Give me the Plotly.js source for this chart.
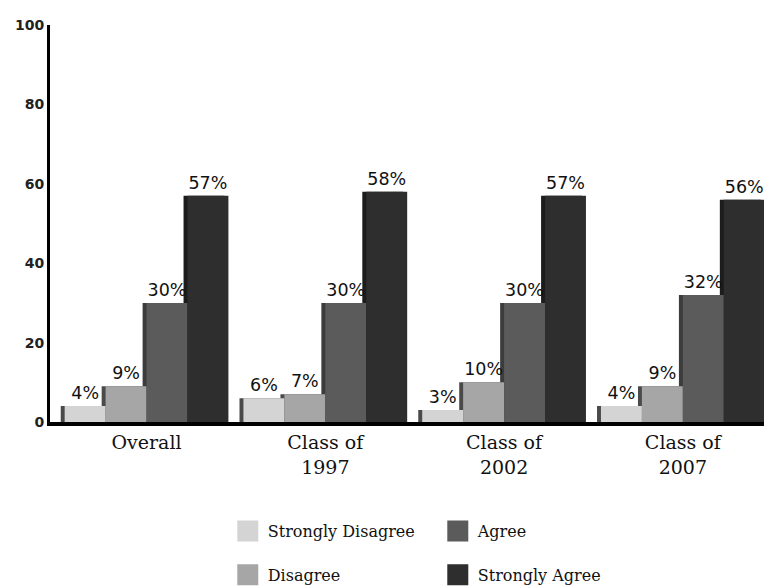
<!DOCTYPE html>
<html>
<head>
<meta charset="utf-8">
<script src="https://cdn.plot.ly/plotly-3.0.1.min.js"></script>
<style>html,body{margin:0;padding:0;background:#fff;}#chart{width:764px;height:586px;}</style>
</head>
<body>
<div id="chart"></div>
<script>
const categories = ['Overall', 'Class of 1997', 'Class of 2002', 'Class of 2007'];
const tickLabels = ['Overall', 'Class of<br>1997', 'Class of<br>2002', 'Class of<br>2007'];
const seriesNames = ['Strongly Disagree', 'Disagree', 'Agree', 'Strongly Agree'];
const stronglyDisagree = [4, 6, 3, 4];
const disagree = [9, 7, 10, 9];
const agree = [30, 30, 30, 32];
const stronglyAgree = [57, 58, 57, 56];
const yTicks = [0, 20, 40, 60, 80, 100];

const seriesValues = [stronglyDisagree, disagree, agree, stronglyAgree];
const faceColors = ['#d4d4d4', '#a6a6a6', '#5b5b5b', '#2e2e2e'];
const edgeColors = ['#4a4a4a', '#4a4a4a', '#3c3c3c', '#1c1c1c'];
const legendIds = ['legend', 'legend2', 'legend', 'legend2'];

const barW = 0.229;
const groupStart = -2 * barW;
const shadowShift = 0.022;

const traces = [];
// depth (shadow) traces drawn first
seriesValues.forEach((vals, i) => {
  traces.push({
    type: 'bar', x: categories, y: vals,
    width: barW, offset: groupStart + i * barW - shadowShift,
    marker: {color: edgeColors[i], line: {width: 0}},
    showlegend: false, hoverinfo: 'skip'
  });
});
// bar faces
seriesValues.forEach((vals, i) => {
  traces.push({
    type: 'bar', name: seriesNames[i], x: categories, y: vals,
    width: barW, offset: groupStart + i * barW,
    marker: {color: faceColors[i], line: {width: 0}},
    text: vals.map(v => v + '%'), textposition: 'outside',
    textfont: {family: 'DejaVu Sans', size: 17.5, color: '#111'},
    cliponaxis: false,
    showlegend: false
  });
});
// legend keys (no data drawn)
seriesValues.forEach((vals, i) => {
  traces.push({
    type: 'scatter', mode: 'markers', name: seriesNames[i],
    x: categories, y: vals.map(() => null),
    marker: {symbol: 'square', size: 16, color: faceColors[i],
             line: {color: faceColors[i], width: 5}},
    legend: legendIds[i], hoverinfo: 'skip'
  });
});

const legendFont = {family: 'DejaVu Serif', size: 16, color: '#111'};
const layout = {
  width: 764, height: 586,
  margin: {l: 50, r: 0, t: 25, b: 164, autoexpand: false},
  paper_bgcolor: '#fff', plot_bgcolor: '#fff',
  barmode: 'overlay',
  xaxis: {
    type: 'category', range: [-0.54, 3.454],
    tickvals: categories, ticktext: tickLabels,
    tickfont: {family: 'DejaVu Serif', size: 19, color: '#111'},
    ticklabelstandoff: 0,
    showline: true, linecolor: '#000', linewidth: 4,
    ticks: '', showgrid: false, zeroline: false, fixedrange: true
  },
  yaxis: {
    range: [0, 100], tickvals: yTicks,
    tickfont: {family: 'DejaVu Sans', size: 14, color: '#222', weight: 'bold'},
    showline: true, linecolor: '#000', linewidth: 3,
    ticks: '', ticklabelstandoff: 0, showgrid: false, zeroline: false, fixedrange: true
  },
  legend: {
    orientation: 'h', x: 0.249, xanchor: 'left', y: -0.275, yanchor: 'middle',
    entrywidth: 165, font: legendFont, bgcolor: 'rgba(0,0,0,0)'
  },
  legend2: {
    orientation: 'h', x: 0.249, xanchor: 'left', y: -0.385, yanchor: 'middle',
    entrywidth: 165, font: legendFont, bgcolor: 'rgba(0,0,0,0)'
  },
  showlegend: true
};

Plotly.newPlot('chart', traces, layout, {displayModeBar: false, staticPlot: true});
</script>
</body>
</html>
